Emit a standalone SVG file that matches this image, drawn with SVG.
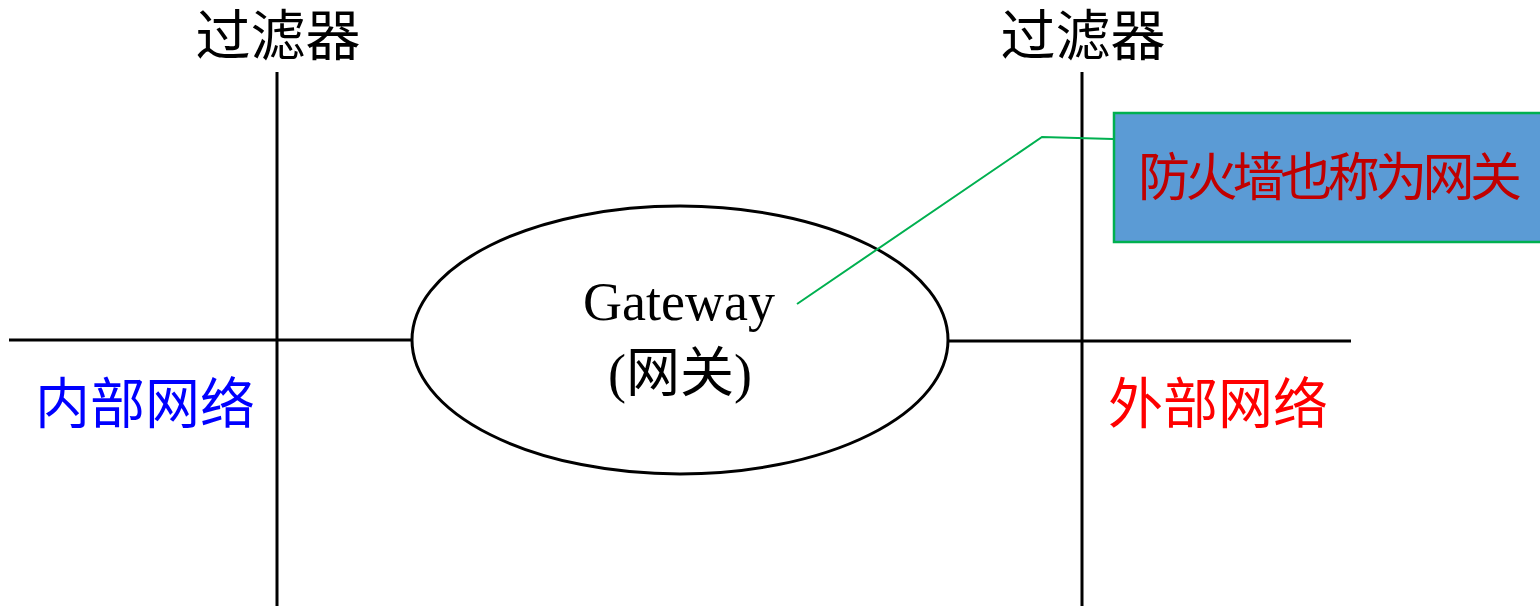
<svg xmlns="http://www.w3.org/2000/svg" width="1540" height="606" viewBox="0 0 1540 606">
<style>
.ln{stroke:#000;stroke-width:3;fill:none}
.t{font-family:"Liberation Serif","Noto Sans CJK SC",serif;font-size:55px;text-anchor:middle}
.c{font-family:"Noto Sans CJK SC",sans-serif;font-size:52px}
</style>
<rect width="1540" height="606" fill="#fff"/>
<g id="connectors">
<line class="ln" x1="277" y1="72" x2="277" y2="606"/>
<line class="ln" x1="1082" y1="72" x2="1082" y2="606"/>
<line class="ln" x1="9" y1="340" x2="412" y2="340"/>
<line class="ln" x1="948" y1="341" x2="1351" y2="341"/>
</g>
<g id="filter-left"><text class="t" x="278" y="55">过滤器</text></g>
<g id="filter-right"><text class="t" x="1083" y="55">过滤器</text></g>
<g id="inner-net"><text class="t" x="145" y="423" fill="#0000FF">内部网络</text></g>
<g id="outer-net"><text class="t" x="1218" y="423" fill="#FF0000">外部网络</text></g>
<g id="gateway">
<ellipse cx="680" cy="340" rx="268" ry="134" fill="#fff" stroke="#000" stroke-width="3"/>
<text class="t" x="679" y="320" style="font-size:54px">Gateway</text>
<text class="t" x="680" y="392" style="font-size:54px">(网关)</text>
</g>
<g id="callout">
<polyline points="797,304 1042,137 1113,139" fill="none" stroke="#00B050" stroke-width="2"/>
<rect x="1114" y="113" width="440" height="129" fill="#5B9BD5" stroke="#00B050" stroke-width="2.5"/>
<text class="c" x="1138" y="196" fill="#C00000" textLength="384" lengthAdjust="spacing">防火墙也称为网关</text>
</g>
</svg>
